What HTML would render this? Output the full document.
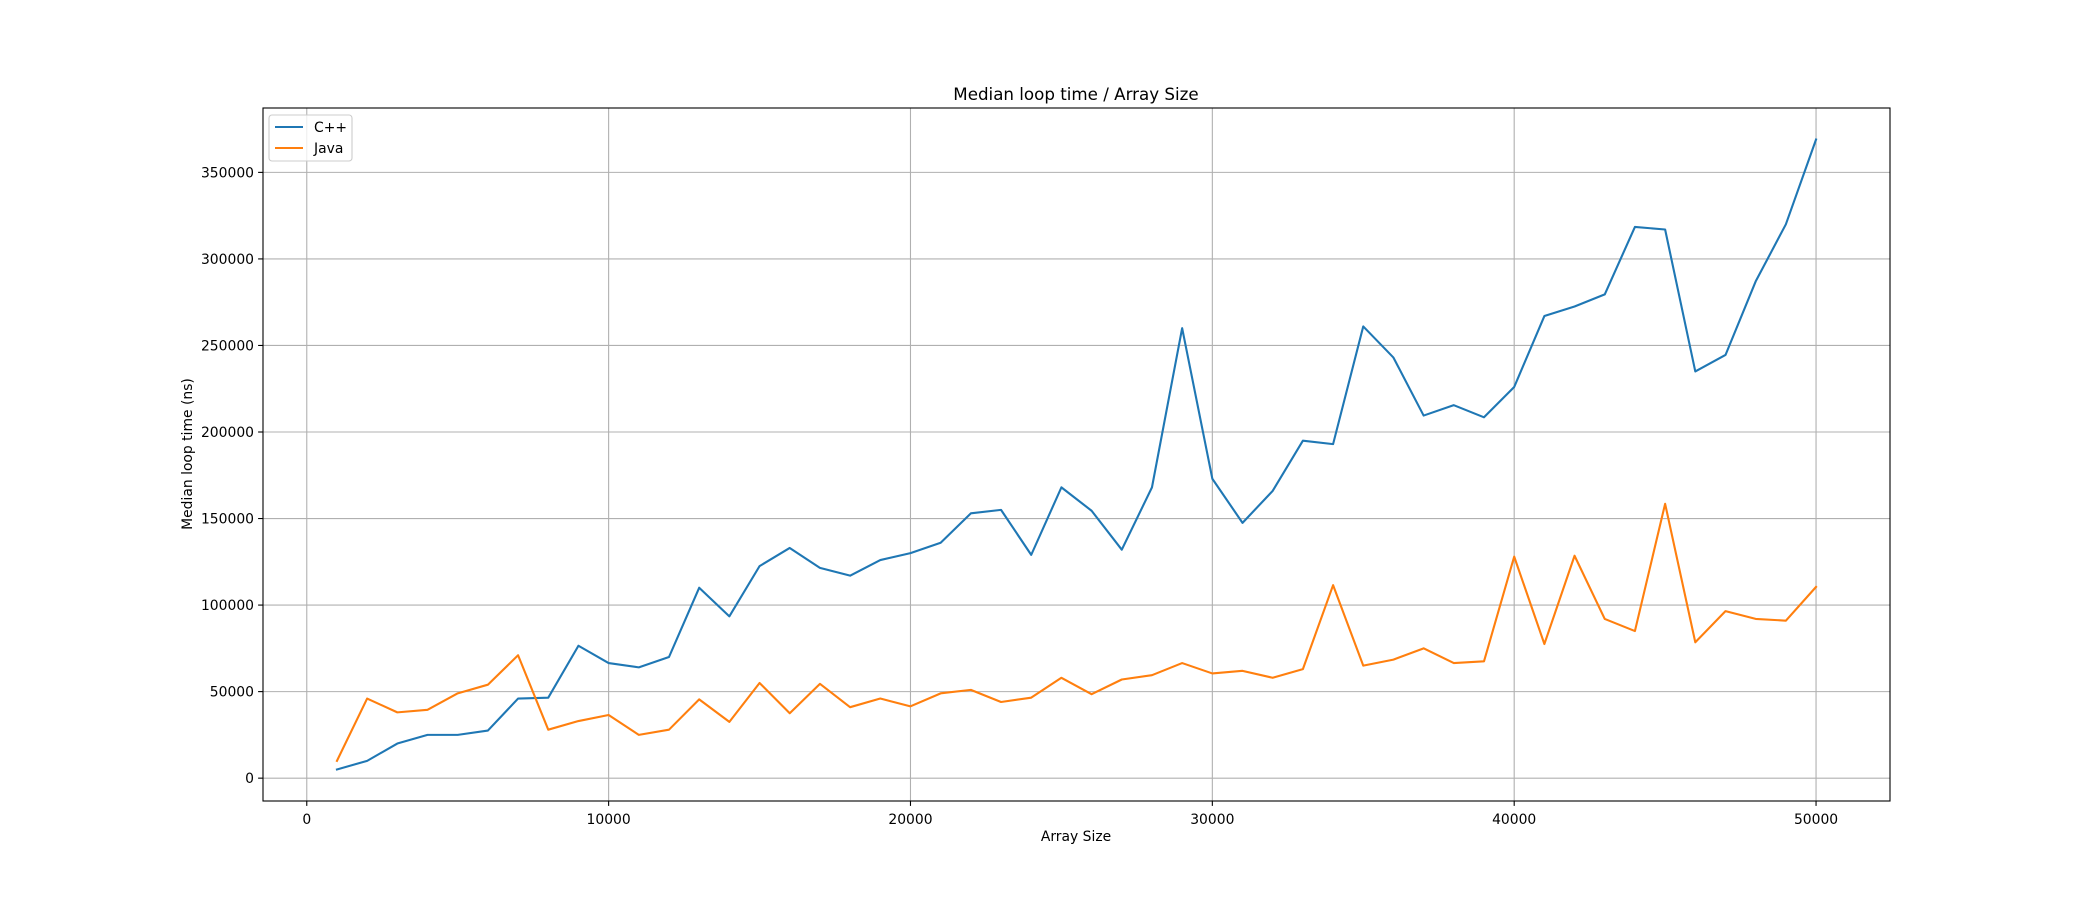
<!DOCTYPE html>
<html><head><meta charset="utf-8"><style>
html,body{margin:0;padding:0;background:#fff;}
svg{display:block;font-family:"DejaVu Sans","Liberation Sans",sans-serif;}
</style></head><body>
<svg id="chart" width="2100" height="900" viewBox="0 0 2100 900">
<rect width="2100" height="900" fill="#fff"/>
<g id="grid"></g>
<g id="series"></g>
<rect x="263" y="108" width="1627" height="693" fill="none" stroke="#000" stroke-width="1.1"/>
<g id="ticks"></g>
<text x="1076" y="100" text-anchor="middle" font-size="16.7">Median loop time / Array Size</text>
<text x="1076" y="841" text-anchor="middle" font-size="13.9">Array Size</text>
<text transform="translate(192,454) rotate(-90)" text-anchor="middle" font-size="13.9">Median loop time (ns)</text>
<g>
<rect x="269" y="115" width="83" height="46" rx="3" fill="#fff" fill-opacity="0.8" stroke="#ccc" stroke-width="1.1"/>
<line x1="275" y1="127" x2="303" y2="127" stroke="#1f77b4" stroke-width="2.1"/>
<text x="314" y="132" font-size="13.9">C++</text>
<line x1="275" y1="148" x2="303" y2="148" stroke="#ff7f0e" stroke-width="2.1"/>
<text x="314" y="153" font-size="13.9">Java</text>
</g>
</svg>
<script>
const sizes = [];
for (let i = 1; i <= 50; i++) sizes.push(i * 1000);
const cppTimes = [5000,10000,20000,25000,25000,27500,46000,46500,76500,66500,64000,70000,110000,93500,122500,133000,121500,117000,126000,130000,136000,153000,155000,129000,168000,154500,132000,168000,260000,173000,147500,166000,195000,193000,261000,243000,209500,215500,208500,226000,267000,272500,279500,318500,317000,235000,244500,287000,320000,369000];
const javaTimes = [10000,46000,38000,39500,49000,54000,71000,28000,33000,36500,25000,28000,45500,32500,55000,37500,54500,41000,46000,41500,49000,51000,44000,46500,58000,48500,57000,59500,66500,60500,62000,58000,63000,111500,65000,68500,75000,66500,67500,128000,77500,128500,92000,85000,158500,78500,96500,92000,91000,110500];
const xTicks = [0,10000,20000,30000,40000,50000];
const yTicks = [0,50000,100000,150000,200000,250000,300000,350000];

const L=263,R=1890,T=108,B=801;
const xmin=Math.min(...sizes), xmax=Math.max(...sizes);
const allY=cppTimes.concat(javaTimes);
const ymin=Math.min(...allY), ymax=Math.max(...allY);
const x0=xmin-(xmax-xmin)*0.05, x1=xmax+(xmax-xmin)*0.05;
const y0=ymin-(ymax-ymin)*0.05, y1=ymax+(ymax-ymin)*0.05;
const sx=v=>L+(v-x0)/(x1-x0)*(R-L);
const sy=v=>B-(v-y0)/(y1-y0)*(B-T);
const NS='http://www.w3.org/2000/svg';
const mk=(t,a,p)=>{const e=document.createElementNS(NS,t);for(const k in a)e.setAttribute(k,a[k]);p.appendChild(e);return e;};
const grid=document.getElementById('grid'), ticks=document.getElementById('ticks'), ser=document.getElementById('series');

xTicks.forEach(v=>{
  const x=sx(v);
  const g=mk('line',{x1:x,x2:x,y1:T,y2:B,stroke:'#b0b0b0','stroke-width':1.1},grid);
  
  
  const t=mk('line',{x1:x,x2:x,y1:B,y2:B+4.9,stroke:'#000','stroke-width':1.1},ticks);
  
  
  const l=mk('text',{x:x,y:B+23,'text-anchor':'middle','font-size':13.9},ticks);
  l.textContent=v;
  
  
});
yTicks.forEach(v=>{
  const y=sy(v);
  const g=mk('line',{x1:L,x2:R,y1:y,y2:y,stroke:'#b0b0b0','stroke-width':1.1},grid);
  
  
  const t=mk('line',{x1:L-4.9,x2:L,y1:y,y2:y,stroke:'#000','stroke-width':1.1},ticks);
  
  
  const l=mk('text',{x:L-9,y:y+5,'text-anchor':'end','font-size':13.9},ticks);
  l.textContent=v;
  
  
});
function line(vals,color,name){
  const d=vals.map((v,i)=>(i?'L':'M')+sx(sizes[i]).toFixed(2)+','+sy(v).toFixed(2)).join('');
  const p=mk('path',{d:d,fill:'none',stroke:color,'stroke-width':2.1,'stroke-linejoin':'round','stroke-linecap':'square'},ser);
  
  
}
line(cppTimes,'#1f77b4','cpp-line');
line(javaTimes,'#ff7f0e','java-line');
</script>
</body></html>
